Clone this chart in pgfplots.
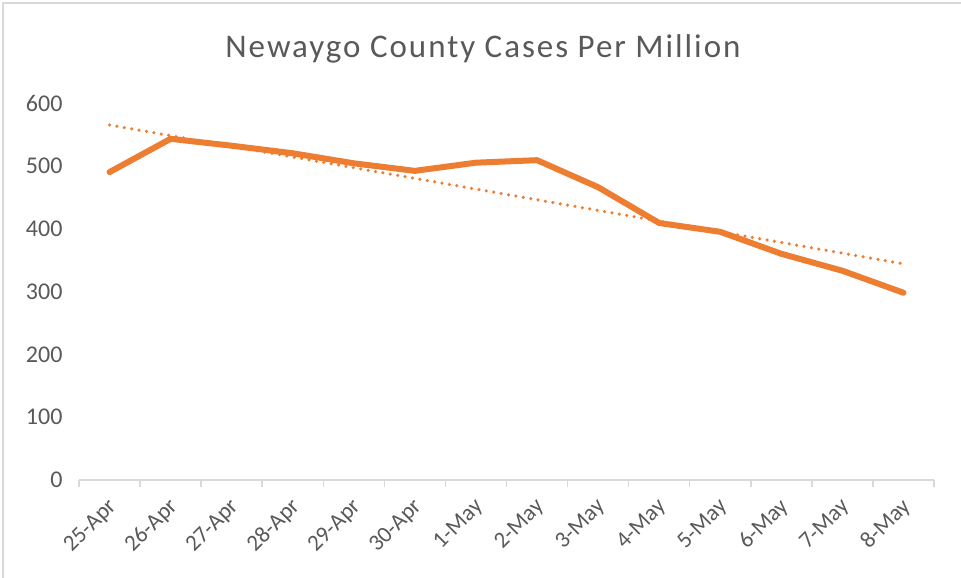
\documentclass[border=0pt]{standalone}
\usepackage{fontspec}
\setmainfont{Carlito}
\newfontfamily\titlefont[LetterSpace=6]{Carlito}
\usepackage{pgfplots}
\pgfplotsset{compat=1.18}
\definecolor{ExcelOrange}{HTML}{ED7D31}
\definecolor{TextGray}{HTML}{595959}
\definecolor{AxisGray}{HTML}{D9D9D9}

\begin{document}
\begin{tikzpicture}[x=1pt,y=1pt]
\path[use as bounding box] (0,0) rectangle (961,578);
\draw[AxisGray, line width=1.5pt] (3,0) -- (3,575) -- (961,575);
\node[TextGray, font=\titlefont\fontsize{33}{36}\selectfont, anchor=base] at (483,520) {Newaygo County Cases Per Million};
\begin{axis}[
    at={(79pt,98pt)}, anchor=south west,
    scale only axis,
    width=855pt, height=377pt,
    xmin=-0.5, xmax=13.5,
    ymin=0, ymax=600,
    ytick={0,100,...,600},
    xtick={0,...,13},
    xticklabels={25-Apr,26-Apr,27-Apr,28-Apr,29-Apr,30-Apr,1-May,2-May,3-May,4-May,5-May,6-May,7-May,8-May},
    minor xtick={-0.5,0.5,...,13.5},
    axis x line=bottom, axis y line=left,
    axis line style={-},
    x axis line style={AxisGray, line width=1.5pt},
    y axis line style={draw=none},
    major tick length=0pt,
    minor tick length=7pt,
    tick align=outside,
    every minor tick/.style={AxisGray, line width=1.5pt},
    ytick style={draw=none},
    /pgf/number format/assume math mode=true,
    yticklabel style={font=\fontsize{24}{26}\selectfont, TextGray, anchor=east, xshift=-13pt},
    xticklabel style={font=\fontsize{23}{25}\selectfont, TextGray, anchor=east, xshift=6pt, yshift=-21pt, rotate=45},
    clip=false,
]
\addplot[ExcelOrange, line width=6pt, line join=round, line cap=round]
    coordinates {
    (0,490) (1,543) (2,532) (3,520) (4,504) (5,492) (6,505)
    (7,509) (8,466) (9,409) (10,395) (11,360) (12,333) (13,298)
    };
\addplot[ExcelOrange, line width=3.5pt, line cap=round, dash pattern=on 0pt off 7.5pt]
    coordinates {(0,565) (13,344)};
\end{axis}
\end{tikzpicture}
\end{document}
